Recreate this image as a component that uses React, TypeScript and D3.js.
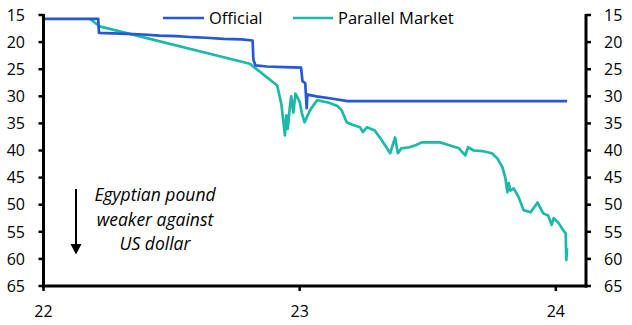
import React from "react";
import * as d3 from "d3";

const officialDates = [
  "2022-01-01", "2022-03-20", "2022-03-21", "2022-04-10", "2022-05-01", "2022-05-23",
  "2022-06-15", "2022-07-10", "2022-08-02", "2022-08-20", "2022-09-15", "2022-10-10",
  "2022-10-26", "2022-10-27", "2022-10-30", "2022-11-15", "2022-12-10", "2023-01-03",
  "2023-01-05", "2023-01-09", "2023-01-11", "2023-01-12", "2023-01-25", "2023-02-15",
  "2023-03-10", "2023-05-01", "2023-07-01", "2023-09-01", "2023-11-01", "2024-01-17",
];
const officialValues = [
  15.7, 15.7, 18.3, 18.4, 18.5, 18.6,
  18.8, 18.9, 19.1, 19.2, 19.4, 19.5,
  19.7, 23.2, 24.3, 24.5, 24.6, 24.7,
  27.2, 27.6, 32.2, 29.7, 30.0, 30.4,
  30.9, 30.9, 30.9, 30.9, 30.9, 30.9,
];

const parallelDates = [
  "2022-03-08", "2022-03-22", "2022-10-22", "2022-11-30", "2022-12-06", "2022-12-11",
  "2022-12-13", "2022-12-15", "2022-12-18", "2022-12-20", "2022-12-23", "2022-12-26",
  "2023-01-01", "2023-01-04", "2023-01-08", "2023-01-16", "2023-01-26", "2023-02-05",
  "2023-02-12", "2023-02-24", "2023-03-02", "2023-03-09", "2023-03-18", "2023-03-28",
  "2023-04-01", "2023-04-07", "2023-04-18", "2023-04-28", "2023-05-10", "2023-05-17",
  "2023-05-21", "2023-05-26", "2023-06-06", "2023-06-16", "2023-06-24", "2023-07-20",
  "2023-08-01", "2023-08-16", "2023-08-25", "2023-08-29", "2023-09-06", "2023-09-18",
  "2023-10-02", "2023-10-10", "2023-10-17", "2023-10-21", "2023-10-24", "2023-10-26",
  "2023-10-28", "2023-11-02", "2023-11-09", "2023-11-16", "2023-11-26", "2023-12-06",
  "2023-12-14", "2023-12-21", "2023-12-26", "2023-12-29", "2024-01-05", "2024-01-12",
  "2024-01-15", "2024-01-16", "2024-01-17",
];
const parallelValues = [
  15.7, 17.1, 24.0, 28.0, 31.5, 37.2,
  33.5, 36.0, 32.0, 30.0, 33.0, 29.5,
  31.0, 33.0, 34.8, 32.5, 30.7, 31.0,
  31.2, 31.8, 32.6, 34.8, 35.3, 35.7,
  36.6, 35.7, 36.3, 38.1, 40.5, 37.6,
  40.5, 39.6, 39.4, 39.0, 38.5, 38.5,
  39.0, 39.6, 40.9, 39.4, 40.0, 40.1,
  40.5, 41.5, 43.1, 45.0, 47.7, 46.0,
  47.4, 47.0, 48.6, 51.0, 51.4, 49.6,
  51.6, 52.0, 53.7, 52.5, 53.4, 54.8,
  55.3, 60.2, 58.0,
];

const yTicks = [15, 20, 25, 30, 35, 40, 45, 50, 55, 60, 65];
const xTickYears = [2022, 2023, 2024];
const xTickLabels = ["22", "23", "24"];
const seriesNames = ["Official", "Parallel Market"];
const annotationLines = ["Egyptian pound", "weaker against", "US dollar"];

const W = 632;
const H = 325;
const left = 43.5;
const right = 586;
const top = 15;
const bottom = 286;
const FONT = "'Open Sans', sans-serif";
const BLUE = "#2458d6";
const TEAL = "#1bb9a7";

export default function App() {
  const parse = d3.timeParse("%Y-%m-%d");
  const x = d3
    .scaleTime()
    .domain([new Date(2022, 0, 1), new Date(2024, 1, 13)])
    .range([left, right]);
  const y = d3.scaleLinear().domain([15, 65]).range([top, bottom]);

  const official = officialDates.map((d, i) => ({ date: parse(d) as Date, v: officialValues[i] }));
  const parallel = parallelDates.map((d, i) => ({ date: parse(d) as Date, v: parallelValues[i] }));

  const line = d3
    .line<{ date: Date; v: number }>()
    .x((d) => x(d.date))
    .y((d) => y(d.v));

  return (
    <svg
      width={W}
      height={H}
      style={{ position: "absolute", left: 0, top: 0, background: "#fff" }}
      fontFamily={FONT}
    >
      {/* series */}
      <path d={line(parallel) || ""} fill="none" stroke={TEAL} strokeWidth={2.7} strokeLinejoin="round" />
      <path d={line(official) || ""} fill="none" stroke={BLUE} strokeWidth={2.7} strokeLinejoin="round" />

      {/* left axis */}
      <line x1={left} x2={left} y1={top - 1} y2={bottom + 1.5} stroke="#000" strokeWidth={3} />
      {yTicks.map((t) => (
        <g key={"l" + t}>
          <line x1={left - 5} x2={left} y1={y(t)} y2={y(t)} stroke="#000" strokeWidth={2.5} />
          <text x={25} y={y(t)} dy="0.36em" textAnchor="end" fontSize={16}>
            {t}
          </text>
        </g>
      ))}

      {/* right axis */}
      <line x1={right} x2={right} y1={top - 1} y2={bottom + 1.5} stroke="#000" strokeWidth={3} />
      {yTicks.map((t) => (
        <g key={"r" + t}>
          <line x1={right} x2={right + 5} y1={y(t)} y2={y(t)} stroke="#000" strokeWidth={2.5} />
          <text x={604} y={y(t)} dy="0.36em" textAnchor="start" fontSize={16}>
            {t}
          </text>
        </g>
      ))}

      {/* bottom axis */}
      <line x1={left - 1.5} x2={right + 1.5} y1={bottom} y2={bottom} stroke="#000" strokeWidth={3} />
      {xTickYears.map((yr, i) => {
        const px = x(new Date(yr, 0, 1));
        return (
          <g key={"x" + yr}>
            <line x1={px} x2={px} y1={bottom} y2={bottom + 5} stroke="#000" strokeWidth={2.5} />
            <text x={px} y={317} textAnchor="middle" fontSize={16}>
              {xTickLabels[i]}
            </text>
          </g>
        );
      })}

      {/* legend */}
      <line x1={163} x2={204} y1={18} y2={18} stroke={BLUE} strokeWidth={2.7} />
      <text x={209} y={23.5} fontSize={16.5}>
        {seriesNames[0]}
      </text>
      <line x1={293} x2={333} y1={18} y2={18} stroke={TEAL} strokeWidth={2.7} />
      <text x={338} y={23.5} fontSize={16.5}>
        {seriesNames[1]}
      </text>

      {/* annotation */}
      <line x1={76} x2={76} y1={189} y2={246} stroke="#000" strokeWidth={2} />
      <path d="M70.5,244 L81.5,244 L76,254.5 Z" fill="#000" />
      {annotationLines.map((s, i) => (
        <text
          key={s}
          x={155}
          y={201 + i * 24.5}
          textAnchor="middle"
          fontSize={17.5}
          fontStyle="italic"
        >
          {s}
        </text>
      ))}
    </svg>
  );
}
